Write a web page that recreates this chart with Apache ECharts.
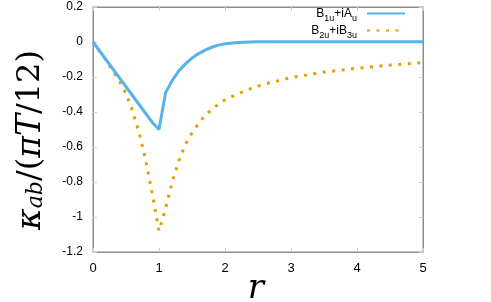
<!DOCTYPE html>
<html>
<head>
<meta charset="utf-8">
<script src="https://cdn.jsdelivr.net/npm/echarts@6/dist/echarts.min.js"></script>
<style>html,body{margin:0;padding:0;background:#fff}#c{width:491px;height:302px}</style>
</head>
<body>
<div id="c"></div>
<script>
// ---- data ----
const blueR = [0, 0.9, 1.0, 1.1, 1.2, 1.3, 1.4, 1.5, 1.6, 1.7, 1.8, 1.9, 2.0, 2.2, 2.5, 3.0, 3.5, 4.0, 4.5, 5.0];
const blueK = [0, -0.46, -0.50, -0.29, -0.22, -0.165, -0.125, -0.092, -0.066, -0.046, -0.030, -0.018, -0.010, -0.003, 0.001, 0.002, 0.002, 0.002, 0.001, 0.001];
const orangeR = [0, 0.2, 0.3, 0.4, 0.5, 0.6, 0.7, 0.8, 0.9, 0.95, 1.0, 1.05, 1.1, 1.2, 1.3, 1.4, 1.5, 1.6, 1.7, 1.8, 1.9, 2.0, 2.2, 2.4, 2.6, 2.8, 3.0, 3.5, 4.0, 4.5, 5.0];
const orangeK = [0, -0.105, -0.165, -0.225, -0.295, -0.395, -0.52, -0.68, -0.87, -0.975, -1.08, -1.015, -0.95, -0.80, -0.68, -0.585, -0.52, -0.465, -0.42, -0.385, -0.355, -0.33, -0.295, -0.265, -0.24, -0.222, -0.203, -0.172, -0.15, -0.132, -0.117];
const seriesNames = ['B1u+iAu', 'B2u+iB3u'];
const legendRich = {'B1u+iAu': '{n|B}{s|1u}{n|+iA}{s|u}', 'B2u+iB3u': '{n|B}{s|2u}{n|+iB}{s|3u}'};
const xTicks = {min: 0, max: 5, interval: 1};
const yTicks = {min: -1.2, max: 0.2, interval: 0.2};

const zip = (a, b) => a.map((v, i) => [v, b[i]]);
const chart = echarts.init(document.getElementById('c'), null, {renderer: 'canvas'});
const axisLine = () => ({show: true, onZero: false, lineStyle: {color: '#8c8c8c', width: 1}});
const tick = () => ({show: true, inside: true, length: 4, lineStyle: {color: '#cfcfcf'}});
const FONT = 'Liberation Sans, Arial, sans-serif';
chart.setOption({
  animation: false,
  grid: {left: 93, right: 68, top: 7, bottom: 50, outerBoundsMode: 'none',
         show: true, borderColor: '#8c8c8c', borderWidth: 1},
  xAxis: [
    {type: 'value', min: xTicks.min, max: xTicks.max, interval: xTicks.interval, axisLine: axisLine(), axisTick: tick(),
     splitLine: {show: false}, axisLabel: {fontSize: 13, margin: 10, color: '#000', fontFamily: FONT}},
    {type: 'value', position: 'top', min: xTicks.min, max: xTicks.max, interval: xTicks.interval, axisLine: axisLine(), axisTick: tick(),
     splitLine: {show: false}, axisLabel: {show: false}}
  ],
  yAxis: [
    {type: 'value', min: yTicks.min, max: yTicks.max, interval: yTicks.interval, axisLine: axisLine(), axisTick: tick(),
     splitLine: {show: false},
     axisLabel: {fontSize: 12, margin: 10, color: '#000', fontFamily: FONT, formatter: v => String(+v.toFixed(1))}},
    {type: 'value', position: 'right', min: yTicks.min, max: yTicks.max, interval: yTicks.interval, axisLine: axisLine(), axisTick: tick(),
     splitLine: {show: false}, axisLabel: {show: false}}
  ],
  legend: {
    orient: 'vertical', right: 85, top: 8, padding: 0, align: 'right', itemWidth: 38, itemHeight: 10, itemGap: 2,
    data: seriesNames,
    itemStyle: {opacity: 0},
    formatter: name => legendRich[name],
    textStyle: {
      fontFamily: FONT,
      padding: [0, 5, 0, 0],
      rich: {
        n: {fontSize: 12, color: '#000', fontFamily: FONT, verticalAlign: 'bottom', lineHeight: 13},
        s: {fontSize: 9, color: '#000', fontFamily: FONT, verticalAlign: 'bottom', lineHeight: 10, padding: [0, 0, -3, 0]}
      }
    }
  },
  series: [
    {name: seriesNames[0], type: 'line', data: zip(blueR, blueK), showSymbol: false, symbol: 'none',
     lineStyle: {color: '#56B4E9', width: 3}, itemStyle: {color: '#56B4E9'}, z: 3},
    {name: seriesNames[1], type: 'line', data: zip(orangeR, orangeK), showSymbol: false, symbol: 'none',
     lineStyle: {color: '#E69F00', width: 3, type: [3, 6.5], cap: 'butt'}, itemStyle: {color: '#E69F00'}, z: 2}
  ],
  graphic: [
    {type: 'text', x: 31, y: 140, rotation: Math.PI / 2,
     style: {
       text: '{k|κ}{sub|ab}{u|/(}{k|πT}{u|/12)}',
       align: 'center', verticalAlign: 'middle',
       rich: {
         k: {fontSize: 33, fontStyle: 'italic', fontFamily: 'DejaVu Serif, serif', fill: '#000'},
         sub: {fontSize: 22, fontStyle: 'italic', fontFamily: 'DejaVu Serif, serif', fill: '#000', padding: [10, 0, 0, 0]},
         u: {fontSize: 32, fontFamily: 'DejaVu Serif, serif', fill: '#000'}
       }
     }},
    {type: 'text', x: 256, y: 289,
     style: {text: 'r', align: 'center', verticalAlign: 'middle', fontSize: 34, fontStyle: 'italic', fontFamily: 'DejaVu Serif, serif', fill: '#000'}}
  ]
});
</script>
</body>
</html>
